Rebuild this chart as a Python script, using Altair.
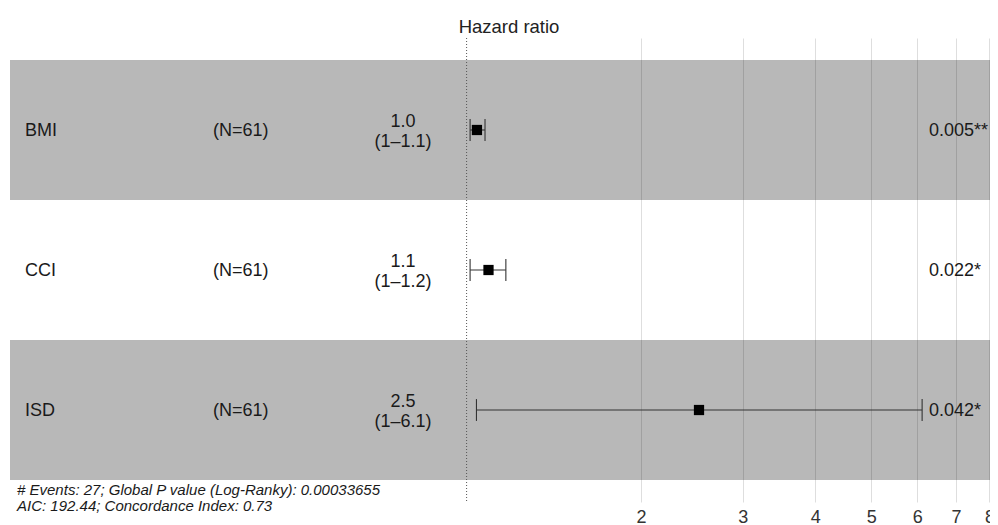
import altair as alt
import pandas as pd

# ---- data ----
variables = ["BMI", "CCI", "ISD"]
n_labels = ["(N=61)", "(N=61)", "(N=61)"]
hr = [1.042, 1.091, 2.52]
hr_lo = [1.014, 1.014, 1.040]
hr_hi = [1.076, 1.169, 6.12]
hr_text = ["1.0\n(1–1.1)", "1.1\n(1–1.2)", "2.5\n(1–6.1)"]
p_text = ["0.005**", "0.022*", "0.042*"]
x_ticks = [2, 3, 4, 5, 6, 7, 8]
footnote = "# Events: 27; Global P value (Log-Ranky): 0.00033655\nAIC: 192.44; Concordance Index: 0.73"

# ---- layout constants (data space of the log axis) ----
X_MIN, X_MAX = 0.1627, 8.0167
Y_MIN, Y_MAX = 0.343, 3.657
COL_VAR = 0.1727
COL_N = 0.3647
COL_HR = 0.7765
COL_P = 6.29
COL_NOTE = 0.1673
NOTE_ROW = 3.571
CAP = 0.078
FONT = "Liberation Sans"

df = pd.DataFrame({
    "row": list(range(1, len(variables) + 1)),
    "var": variables,
    "n": n_labels,
    "hr": hr,
    "lo": hr_lo,
    "hi": hr_hi,
    "hr_text": hr_text,
    "p": p_text,
})

xs = alt.Scale(type="log", domain=[X_MIN, X_MAX], nice=False, zero=False)
ys = alt.Scale(domain=[Y_MIN, Y_MAX], reverse=True, nice=False, zero=False)

base = alt.Chart(df)

bands = base.transform_filter("datum.row % 2 == 1").transform_calculate(
    y1="datum.row - 0.5", y2="datum.row + 0.5"
).mark_rect(color="black", opacity=0.28).encode(
    x=alt.X(datum=X_MIN, scale=xs, axis=alt.Axis(
        values=x_ticks, title=None, domain=False, ticks=False,
        grid=True, gridColor="#dedede", gridWidth=1,
        labelFont=FONT, labelFontSize=18, labelColor="#333333",
        labelPadding=6, labelFlush=False, labelOverlap=False,
    )),
    x2=alt.X2(datum=X_MAX),
    y=alt.Y("y1:Q", scale=ys, axis=None),
    y2="y2:Q",
)

ref = alt.Chart(df).mark_rule(color="#555555", strokeDash=[1, 2], strokeWidth=1).encode(
    x=alt.X(datum=1)
).transform_filter("datum.row == 1")

bars = base.mark_rule(color="#333333", strokeWidth=1.1).encode(
    x="lo:Q", x2="hi:Q", y="row:Q"
)

caps = base.transform_fold(["lo", "hi"], as_=["end", "xv"]).transform_calculate(
    ya=f"datum.row - {CAP}", yb=f"datum.row + {CAP}"
).mark_rule(color="#333333", strokeWidth=1.1).encode(
    x="xv:Q", y="ya:Q", y2="yb:Q"
)

points = base.mark_square(color="black", opacity=1, size=105).encode(
    x="hr:Q", y="row:Q"
)

txt_common = dict(font=FONT, fontSize=18, color="#1a1a1a", baseline="middle")

t_var = base.mark_text(align="left", dy=1, **txt_common).encode(
    x=alt.X(datum=COL_VAR), y="row:Q", text="var:N"
)
t_n = base.mark_text(align="left", dy=1, **txt_common).encode(
    x=alt.X(datum=COL_N), y="row:Q", text="n:N"
)
t_hr = base.mark_text(align="center", lineBreak="\n", lineHeight=20, dy=-8, **txt_common).encode(
    x=alt.X(datum=COL_HR), y="row:Q", text="hr_text:N"
)
t_p = base.mark_text(align="left", dy=1, **txt_common).encode(
    x=alt.X(datum=COL_P), y="row:Q", text="p:N"
)

note = alt.Chart(pd.DataFrame({"t": [footnote]})).mark_text(
    align="left", baseline="middle", lineBreak="\n", lineHeight=16,
    font=FONT, fontSize=15, fontStyle="italic", color="#1a1a1a"
).encode(
    x=alt.X(datum=COL_NOTE), y=alt.Y(datum=NOTE_ROW), text="t:N"
)

chart = alt.layer(bands, ref, bars, caps, points, t_var, t_n, t_hr, t_p, note).properties(
    width=980, height=464,
    title=alt.TitleParams("Hazard ratio", font=FONT, fontSize=18.5, fontWeight="normal",
                          color="#222222", anchor="middle", offset=1, dx=9),
    autosize=alt.AutoSizeParams(type="none"),
    padding={"left": 2, "top": 30, "right": 0, "bottom": 24},
    background="white",
).configure_view(stroke=None)

chart.save("out.html", embed_options={"renderer": "svg", "actions": False})
